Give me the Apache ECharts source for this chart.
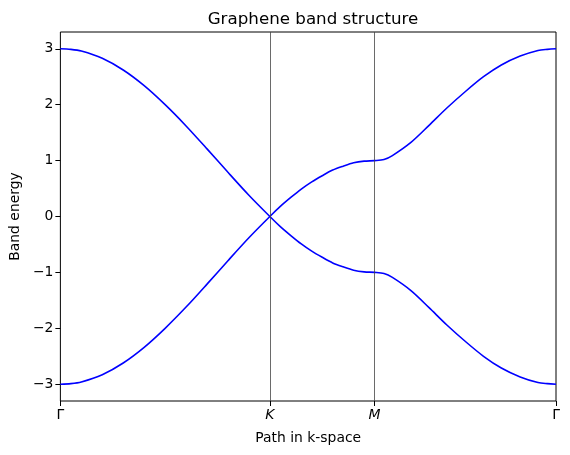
<!DOCTYPE html>
<html><head><meta charset="utf-8">
<script src="https://cdn.jsdelivr.net/npm/echarts@6/dist/echarts.min.js"></script>
<style>html,body{margin:0;padding:0;background:#fff}#c{width:570px;height:455px}</style>
</head><body><div id="c"></div>
<script>
// path coordinate (Γ-K = 2, K-M = 1, M-Γ = √3)
const kPath = [0, 0.1, 0.2, 0.4, 0.6, 0.8, 1.0, 1.2, 1.4, 1.6, 1.8, 2.0,
  2.1, 2.2, 2.3, 2.4, 2.5, 2.6, 2.7, 2.8, 2.9, 3.0,
  3.09, 3.17, 3.35, 3.52, 3.69, 3.87, 4.04, 4.21, 4.39, 4.56, 4.65, 4.732];
// band that starts at +3 at Γ and passes K towards −1 at M
const bandDown = [3, 2.99, 2.96, 2.83, 2.62, 2.34, 2.0, 1.62, 1.21, 0.79, 0.38, 0,
  -0.18, -0.34, -0.49, -0.62, -0.73, -0.83, -0.90, -0.96, -0.99, -1.0,
  -1.02, -1.09, -1.33, -1.63, -1.94, -2.24, -2.50, -2.71, -2.87, -2.97, -2.99, -3.0];
// band that starts at −3 at Γ and passes K towards +1 at M
const bandUp = [-3, -2.99, -2.96, -2.83, -2.62, -2.34, -2.0, -1.62, -1.21, -0.79, -0.38, 0,
  0.18, 0.34, 0.49, 0.62, 0.73, 0.83, 0.90, 0.96, 0.99, 1.0,
  1.02, 1.09, 1.33, 1.63, 1.94, 2.24, 2.50, 2.71, 2.87, 2.97, 2.99, 3.0];
const symPos = [0, 2, 3, 4.732];
const symLabels = ['Γ', 'K', 'M', 'Γ'];
const yTicks = [-3, -2, -1, 0, 1, 2, 3];

const font = 'DejaVu Sans';
const chart = echarts.init(document.getElementById('c'), null, {renderer: 'canvas'});
const mk = arr => kPath.map((x, i) => [x, arr[i]]);
chart.setOption({
  animation: false,
  title: {text: 'Graphene band structure', left: 308, top: 6, textAlign: 'center',
    textStyle: {fontFamily: font, fontSize: 16.7, fontWeight: 'normal', color: '#000'}},
  grid: {left: 60, right: 14, top: 32, bottom: 54, show: true, borderColor: '#000', borderWidth: 1, backgroundColor: 'transparent'},
  xAxis: {type: 'value', min: 0, max: 4.732,
    name: 'Path in k-space', nameLocation: 'middle', nameGap: 30,
    nameTextStyle: {fontFamily: font, fontSize: 13.9, color: '#000'},
    axisLine: {show: false, onZero: false},
    axisTick: {show: true, inside: false, length: 5, lineStyle: {color: '#000'}, customValues: symPos},
    axisLabel: {show: true, margin: 7, customValues: symPos,
      formatter: v => { const i = symPos.findIndex(p => Math.abs(p - v) < 1e-6); return i < 0 ? '' : (symLabels[i] === 'Γ' ? symLabels[i] : '{it|' + symLabels[i] + '}'); },
      fontFamily: font, fontSize: 13.9, color: '#000',
      rich: {it: {fontFamily: font, fontSize: 13.9, fontStyle: 'italic', color: '#000'}}},
    splitLine: {show: false}},
  yAxis: {type: 'value', min: -3.3, max: 3.3,
    name: 'Band energy', nameLocation: 'middle', nameGap: 38, nameRotate: 90,
    nameTextStyle: {fontFamily: font, fontSize: 13.9, color: '#000'},
    axisLine: {show: false, onZero: false},
    axisTick: {show: true, inside: false, length: 5, lineStyle: {color: '#000'}, customValues: yTicks},
    axisLabel: {show: true, margin: 7, customValues: yTicks,
      formatter: v => String(Math.round(v)).replace('-', '\u2212'),
      fontFamily: font, fontSize: 13.9, color: '#000'},
    splitLine: {show: false}},
  series: [
    {type: 'line', data: symPos.slice(1, 3).map(x => [x, 0]), symbol: 'none', lineStyle: {opacity: 0}, z: 1,
      markLine: {silent: true, symbol: 'none', label: {show: false},
        lineStyle: {color: '#444', width: 0.8, type: 'solid'},
        data: symPos.slice(1, 3).map(x => ({xAxis: x}))}},
    {type: 'line', data: mk(bandDown), smooth: 0.3, symbol: 'none', z: 3,
      lineStyle: {color: '#0000ff', width: 1.6}},
    {type: 'line', data: mk(bandUp), smooth: 0.3, symbol: 'none', z: 3,
      lineStyle: {color: '#0000ff', width: 1.6}}
  ]
});
</script></body></html>
